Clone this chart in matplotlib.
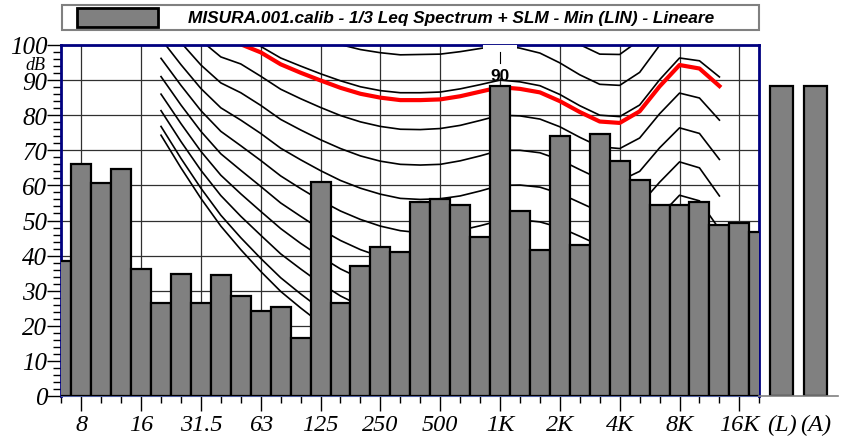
import matplotlib
matplotlib.use("Agg")
import matplotlib.pyplot as plt
from matplotlib.patches import Rectangle
import numpy as np

plt.rcParams["font.family"] = "Liberation Serif"
plt.rcParams["font.style"] = "italic"

# 1/3 octave bands, 6.3 Hz .. 20 kHz
bands = ["6.3", "8", "10", "12.5", "16", "20", "25", "31.5", "40", "50", "63", "80",
         "100", "125", "160", "200", "250", "315", "400", "500", "630", "800", "1K",
         "1.25K", "1.6K", "2K", "2.5K", "3.15K", "4K", "5K", "6.3K", "8K", "10K",
         "12.5K", "16K", "20K"]
levels = [38.5, 66.1, 60.6, 64.7, 36.2, 26.5, 34.8, 26.5, 34.5, 28.6, 24.1, 25.3,
          16.4, 60.9, 26.5, 37.0, 42.4, 40.9, 55.3, 56.0, 54.5, 45.3, 88.2,
          52.8, 41.7, 74.2, 43.1, 74.6, 67.0, 61.5, 54.3, 54.4, 55.3,
          48.7, 49.4, 46.8]
octave_labels = ["8", "16", "31.5", "63", "125", "250", "500", "1K", "2K", "4K", "8K", "16K"]

# global levels
total_labels = ["(L)", "(A)"]
total_levels = [88.2, 88.2]

# equal loudness contours, 20 Hz .. 12.5 kHz (dB)
contour_bands = bands[5:34]
contour_thr = [74.3, 65.0, 56.3, 48.4, 41.7, 35.5, 29.8, 25.1, 20.7, 16.8, 13.8, 11.2, 8.9, 7.2,
               6.0, 5.0, 4.4, 4.2, 3.7, 2.6, 1.0, -1.2, -3.6, -3.9, -1.1, 6.6, 15.3, 16.4, 11.6]
contour_10 = [76.8, 67.7, 59.2, 51.5, 45.1, 39.2, 33.7, 29.1, 24.8, 21.0, 18.1, 15.6, 13.4, 11.9,
              10.9, 10.1, 9.9, 10.0, 9.7, 8.7, 7.2, 5.0, 2.6, 2.2, 4.8, 12.2, 20.4, 21.0, 15.5]
contour_20 = [81.3, 72.5, 64.3, 57.1, 51.2, 45.8, 40.5, 36.2, 32.1, 28.5, 25.7, 23.3, 21.4, 20.1,
              19.4, 19.1, 19.4, 20.0, 19.9, 19.2, 17.7, 15.4, 13.0, 12.5, 15.0, 22.0, 29.4, 29.2, 22.7]
contour_30 = [86.0, 77.6, 69.7, 62.9, 57.6, 52.6, 47.7, 43.5, 39.7, 36.2, 33.5, 31.4, 29.6, 28.6,
              28.2, 28.3, 29.0, 30.0, 30.1, 29.5, 28.0, 25.7, 23.2, 22.6, 25.0, 31.7, 38.5, 37.7, 30.4]
contour_40 = [91.0, 82.9, 75.4, 69.0, 64.3, 59.7, 55.0, 51.2, 47.5, 44.3, 41.7, 39.7, 38.2, 37.4,
              37.3, 37.7, 38.7, 40.0, 40.2, 39.6, 38.1, 35.7, 33.1, 32.5, 34.9, 41.5, 47.8, 46.5, 38.6]
contour_50 = [96.2, 88.5, 81.3, 75.4, 71.3, 67.1, 62.7, 59.1, 55.7, 52.7, 50.3, 48.4, 47.1, 46.5,
              46.6, 47.2, 48.5, 50.0, 50.2, 49.6, 48.0, 45.5, 42.9, 42.3, 44.7, 51.2, 57.2, 55.6, 47.5]
contour_60 = [101.7, 94.4, 87.6, 82.1, 78.6, 74.8, 70.6, 67.3, 64.2, 61.4, 59.2, 57.5, 56.3, 56.0,
              56.2, 57.0, 58.4, 60.0, 60.1, 59.5, 57.7, 55.1, 52.5, 51.8, 54.4, 60.9, 66.7, 65.0, 57.0]
contour_70 = [107.6, 100.7, 94.3, 89.2, 86.4, 82.8, 78.8, 75.8, 73.0, 70.5, 68.4, 66.9, 66.0, 65.8,
              66.0, 67.0, 68.4, 70.0, 70.0, 69.3, 67.3, 64.5, 61.8, 61.3, 64.0, 70.7, 76.4, 74.8, 67.4]
contour_80 = [113.7, 107.3, 101.3, 96.6, 94.6, 91.1, 87.4, 84.7, 82.2, 79.9, 78.1, 76.8, 76.0, 75.9,
              76.2, 77.1, 78.5, 80.0, 79.8, 78.9, 76.7, 73.7, 71.0, 70.5, 73.5, 80.4, 86.3, 84.9, 78.6]
contour_90 = [120.3, 114.4, 108.7, 104.4, 102.0, 99.6, 96.3, 94.0, 91.8, 89.8, 88.1, 87.0, 86.4, 86.4,
              86.6, 87.5, 88.7, 90.0, 89.5, 88.4, 85.9, 82.7, 80.0, 79.6, 82.9, 90.1, 96.3, 95.5, 90.9]
contour_100 = [127.2, 121.9, 116.6, 112.6, 112.3, 108.9, 105.6, 103.6, 101.8, 100.1, 98.7, 97.8, 97.2, 97.3,
               97.4, 98.1, 99.0, 100.0, 99.1, 97.7, 94.9, 91.5, 88.8, 88.5, 92.2, 99.9, 106.6, 106.4, 104.3]
contour_110 = [134.6, 129.8, 125.0, 121.3, 121.9, 118.4, 115.3, 113.7, 112.3, 110.9, 109.7, 109.0, 108.6, 108.6,
               108.6, 109.0, 109.5, 110.0, 108.6, 106.9, 103.8, 100.1, 97.4, 97.3, 101.4, 109.6, 116.9, 117.9, 119.0]
# measured loudness contour (red)
contour_meas = [119.0, 112.9, 107.2, 102.8, 100.2, 97.9, 94.5, 92.1, 89.9, 87.8, 86.1, 85.0, 84.3, 84.3,
                84.5, 85.4, 86.7, 88.0, 87.5, 86.5, 84.0, 80.9, 78.2, 77.8, 81.1, 88.2, 94.3, 93.3, 88.3]
loudness_label = "90"

black_contours = [contour_thr, contour_10, contour_20, contour_30, contour_40, contour_50,
                  contour_60, contour_70, contour_80, contour_90, contour_100, contour_110]

W, H = 845, 439
fig = plt.figure(figsize=(W / 100, H / 100), dpi=100)

# %% main spectrum axes
ax = fig.add_axes([61.3 / W, 42 / H, 698 / W, 351 / H])
x = np.arange(len(bands))
xc = np.array([bands.index(b) for b in contour_bands])

ax.bar(x, levels, width=1.0, color="#808080", edgecolor="black", linewidth=1.6, zorder=3)
for c in black_contours:
    ax.plot(xc, c, color="black", lw=1.2, zorder=2)
ax.plot(xc, contour_meas, color="#ff0000", lw=3, zorder=2.5)

ax.set_xlim(0, len(bands) - 1)
ax.set_ylim(0, 100)

major_idx = [bands.index(b) for b in octave_labels]
ax.set_xticks(major_idx)
ax.set_xticklabels(octave_labels)
ax.set_xticks(x, minor=True)
ax.set_yticks(np.arange(0, 101, 10))
ax.set_yticks(np.arange(0, 101, 2), minor=True)

ax.grid(which="major", color="#303030", lw=0.9, zorder=1)
ax.set_axisbelow(True)

ax.tick_params(axis="y", which="major", length=10, width=1, labelsize=18, pad=0)
ax.tick_params(axis="y", which="minor", length=6, width=1)
ax.tick_params(axis="x", which="major", length=11, width=1, labelsize=17.5, pad=2)
ax.tick_params(axis="x", which="minor", length=5, width=1)

for side in ["left", "top", "right"]:
    ax.spines[side].set_color("#000080")
    ax.spines[side].set_linewidth(2)
ax.spines["bottom"].set_color("#5060a0")
ax.spines["bottom"].set_linewidth(0.8)

# loudness marker at 1 kHz
k = bands.index("1K")
ax.add_patch(Rectangle((k - 0.85, 90.6), 1.7, 9.4, facecolor="white", edgecolor="none", zorder=2.8))
ax.plot([k, k], [95.0, 97.9], color="black", lw=0.8, zorder=2.9)
ax.text(k, 91.4, loudness_label, ha="center", va="center", fontsize=12.5, fontweight="bold",
        fontstyle="normal", family="Liberation Sans", zorder=4)

# %% global levels axes
ax2 = fig.add_axes([759.3 / W, 42 / H, (838 - 759.3) / W, 351 / H])
ax2.bar(range(len(total_levels)), total_levels, width=0.69, color="#808080",
        edgecolor="black", linewidth=1.6)
ax2.set_xlim(-0.663, 1.666)
ax2.set_ylim(0, 100)
ax2.set_xticks(range(len(total_levels)))
ax2.set_xticklabels(total_labels)
ax2.set_yticks([])
ax2.tick_params(axis="x", length=0, labelsize=17.5, pad=13)
for side in ["left", "top", "right"]:
    ax2.spines[side].set_visible(False)
ax2.spines["bottom"].set_color("#808080")
ax2.spines["bottom"].set_linewidth(1.2)
ax2.patch.set_visible(False)

# %% header box and dB unit
over = fig.add_axes([0, 0, 1, 1])
over.set_xlim(0, W)
over.set_ylim(H, 0)
over.axis("off")
over.patch.set_visible(False)
over.add_patch(Rectangle((62, 5.5), 697, 25.5, fill=False, edgecolor="#808080", lw=1.5))
over.add_patch(Rectangle((77.5, 8.7), 81, 19.6, facecolor="#808080", edgecolor="black", lw=2))
over.text(188, 18.5, "MISURA.001.calib - 1/3 Leq Spectrum + SLM - Min (LIN) - Lineare",
          ha="left", va="center", fontsize=12.4, fontweight="bold", fontstyle="italic",
          family="Liberation Sans")
over.text(45, 65, "dB", ha="right", va="center", fontsize=13)

fig.savefig("out.png", dpi=100)
